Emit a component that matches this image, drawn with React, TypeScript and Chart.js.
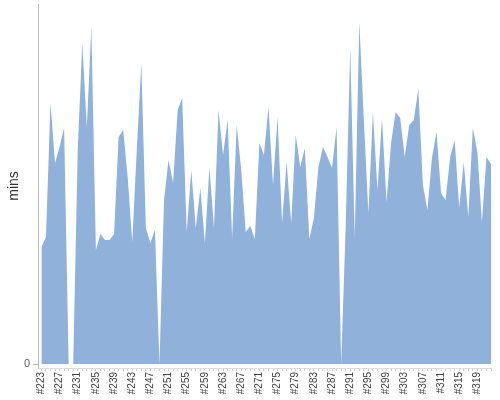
import React, { useEffect, useRef } from "react";
import { Chart, registerables } from "chart.js";

Chart.register(...registerables);

const builds: string[] = Array.from({ length: 100 }, (_, i) => "#" + (223 + i));

const mins: number[] = [
  117, 127, 261, 201, 217, 236, 0, 0, 214, 321,
  237, 337, 114, 130, 124, 124, 130, 227, 234, 187,
  122, 214, 301, 136, 121, 134, 0, 164, 204, 181,
  254, 266, 132, 194, 136, 176, 121, 197, 136, 254,
  209, 244, 126, 239, 194, 132, 138, 125, 221, 209,
  257, 179, 247, 141, 202, 141, 229, 197, 216, 125,
  146, 197, 217, 207, 196, 237, 0, 137, 316, 127,
  342, 244, 151, 252, 174, 246, 162, 221, 252, 246,
  207, 239, 244, 275, 179, 154, 206, 232, 171, 164,
  207, 224, 156, 202, 147, 236, 212, 142, 207, 200,
];

const yTickValues: number[] = [0];
const yAxisTitle = "mins";

export default function App() {
  const ref = useRef<HTMLCanvasElement | null>(null);

  useEffect(() => {
    if (!ref.current) return;
    const font = "'Liberation Sans', Arial, sans-serif";
    const chart = new Chart(ref.current, {
      type: "line",
      data: {
        datasets: [
          {
            data: mins.map((v, i) => ({ x: i, y: v })),
            fill: "origin",
            backgroundColor: "rgb(143,177,218)",
            borderColor: "rgb(143,177,218)",
            borderWidth: 0,
            pointRadius: 0,
            tension: 0,
          },
        ],
      },
      options: {
        responsive: false,
        animation: false,
        layout: { padding: { top: 4, right: 9, left: 0, bottom: 0 } },
        plugins: { legend: { display: false }, tooltip: { enabled: false } },
        scales: {
          x: {
            type: "linear",
            min: -0.75,
            max: 99,
            afterFit: (s: any) => {
              s.height = 32;
              s.paddingLeft = 0;
              s.paddingRight = 0;
            },
            ticks: {
              stepSize: 1,
              autoSkip: false,
              includeBounds: false,
              maxTicksLimit: 500,
              minRotation: 90,
              maxRotation: 90,
              padding: 1,
              color: "#444",
              font: { family: font, size: 10 },
              callback: (v: any) => {
                const n = Number(v);
                return Number.isInteger(n) && n % 4 === 0 && n >= 0 && n < builds.length ? builds[n] : "";
              },
            },
            grid: {
              drawOnChartArea: false,
              drawTicks: true,
              tickLength: 3,
              color: "#cccccc",
            },
            border: { display: true, color: "#dddddd" },
          },
          y: {
            type: "linear",
            min: -4,
            max: 360,
            afterBuildTicks: (s: any) => {
              s.ticks = yTickValues.map((v) => ({ value: v }));
            },
            afterFit: (s: any) => {
              s.width = 38;
              s.paddingTop = 0;
              s.paddingBottom = 0;
            },
            ticks: {
              padding: 3,
              color: "#666",
              font: { family: font, size: 11 },
              callback: (v: any) => (Number(v) === 0 ? "0" : ""),
            },
            grid: {
              drawOnChartArea: false,
              drawTicks: true,
              tickLength: 5,
              color: "#bbbbbb",
            },
            border: { display: true, color: "#bbbbbb" },
            title: {
              display: true,
              text: yAxisTitle,
              color: "#333",
              font: { family: font, size: 14 },
              padding: { top: 6, bottom: 0 },
            },
          },
        },
      },
    });
    return () => chart.destroy();
  }, []);

  return (
    <div style={{ position: "absolute", left: 0, top: 0, width: 500, height: 400 }}>
      <canvas ref={ref} width={500} height={400} style={{ display: "block" }} />
    </div>
  );
}
